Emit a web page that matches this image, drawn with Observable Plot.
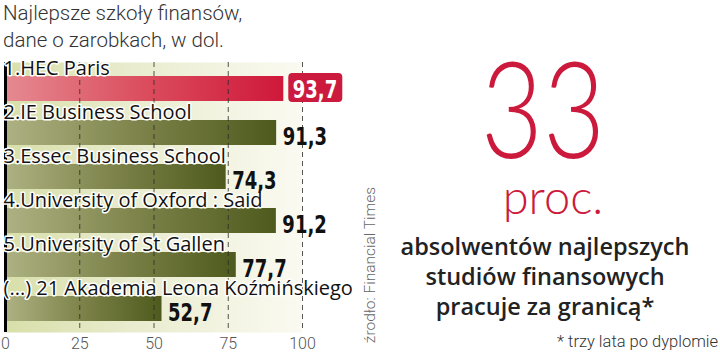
<!DOCTYPE html>
<html>
<head>
<meta charset="utf-8">
<script src="https://cdn.jsdelivr.net/npm/d3@7"></script>
<script src="https://cdn.jsdelivr.net/npm/@observablehq/plot@0.6"></script>
<style>
  html, body { margin: 0; padding: 0; background: #fff; }
  #wrap { position: relative; width: 720px; height: 355px; overflow: hidden; font-family: Roboto, "Noto Sans", sans-serif; }
  #chart { position: absolute; left: 0; top: 0; }
  .abs { position: absolute; white-space: nowrap; }
  #title { left: 3px; top: 0px; font-size: 20.5px; line-height: 27px; font-weight: 300; color: #333; }
  #big { left: 443px; width: 200px; top: 52px; text-align: center; font-family: Lato, "Open Sans", sans-serif; font-weight: 300; font-size: 134px; line-height: 110px; color: #cc1a3c; transform: scaleX(0.8); }
  #proc { left: 453px; width: 200px; top: 171px; text-align: center; font-family: Lato, "Open Sans", sans-serif; font-weight: 300; font-size: 47px; line-height: 50px; color: #cc1a3c; }
  #desc { left: 395px; width: 300px; top: 231px; text-align: center; font-family: "Open Sans", "Noto Sans", sans-serif; font-weight: 600; font-size: 23.5px; line-height: 30px; color: #222; }
  #note { right: 2px; top: 332px; font-size: 16.5px; line-height: 20px; font-weight: 300; color: #333; }
  #source { left: 280px; width: 180px; top: 256px; height: 18px; text-align: center; font-size: 15.5px; line-height: 18px; font-weight: 300; color: #666; transform: rotate(-90deg); transform-origin: 50% 50%; }
</style>
</head>
<body>
<div id="wrap">
  <div id="chart"></div>
  <div id="title" class="abs"></div>
  <div id="big" class="abs"></div>
  <div id="proc" class="abs"></div>
  <div id="desc" class="abs"></div>
  <div id="note" class="abs"></div>
  <div id="source" class="abs"></div>
</div>
<script>
// ---- data ----
const schools = [
  "1.HEC Paris",
  "2.IE Business School",
  "3.Essec Business School",
  "4.University of Oxford : Said",
  "5.University of St Gallen",
  "(...) 21 Akademia Leona Koźmińskiego"
];
const salaries = [93.7, 91.3, 74.3, 91.2, 77.7, 52.7];
const valueLabels = ["93,7", "91,3", "74,3", "91,2", "77,7", "52,7"];
const highlighted = ["1.HEC Paris"];
const xTicks = [0, 25, 50, 75, 100];
const gridTicks = [25, 50, 75, 100];

const titleLines = ["Najlepsze szkoły finansów,", "dane o zarobkach, w dol."];
const bigNumber = "33";
const bigUnit = "proc.";
const descLines = ["absolwentów najlepszych", "studiów finansowych", "pracuje za granicą*"];
const footnote = "* trzy lata po dyplomie";
const sourceText = "źrodło: Financial Times";

// ---- table ----
const rows = schools.map((s, i) => ({school: s, value: salaries[i], label: valueLabels[i], hi: highlighted.includes(s)}));
const rowsOlive = rows.filter(d => !d.hi);
const rowsRed = rows.filter(d => d.hi);

const numFont = "'DejaVu Sans', sans-serif";
const labelFont = "'Open Sans', 'Noto Sans', sans-serif";

const plot = Plot.plot({
  width: 720,
  height: 355,
  marginLeft: 5,
  marginRight: 418,
  marginTop: 62,
  marginBottom: 23,
  style: {background: "transparent", overflow: "visible", fontFamily: "Roboto, 'Noto Sans', sans-serif"},
  x: {domain: [0, 100], axis: null},
  y: {domain: schools, range: [74, 322], paddingInner: 0.44, paddingOuter: 0, axis: null},
  marks: [
    Plot.frame({fill: "url(#bgGrad)", stroke: "none"}),
    Plot.barX(rowsOlive, {x: "value", y: "school", fill: "url(#oliveGrad)"}),
    Plot.barX(rowsRed, {x: "value", y: "school", fill: "url(#redGrad)"}),
    Plot.ruleX(gridTicks, {stroke: "#2a2a2a", strokeOpacity: 0.8, strokeDasharray: "5,4", strokeWidth: 1}),
    Plot.ruleX([0], {stroke: "#000", strokeWidth: 3}),
    Plot.axisX({ticks: xTicks, tickSize: 0, tickPadding: 5, fontSize: 16, fill: "#555", label: null, tickFormat: d => String(d), anchor: "bottom", fontWeight: 300}),
    Plot.text(rows, {frameAnchor: "left", y: "school", text: "school", textAnchor: "start", lineAnchor: "bottom", dx: -2, dy: -14.5, fontSize: 20, fontFamily: labelFont, fill: "#111", stroke: "white", strokeWidth: 3, paintOrder: "stroke"}),
    Plot.text(rowsOlive, {x: "value", y: "school", text: "label", textAnchor: "start", lineAnchor: "bottom", dx: 6, dy: 11.5, fontSize: 25, fontWeight: "bold", fontFamily: numFont, fill: "#111"}),
    Plot.barX(rowsRed, {x1: "value", x2: "value", y: "school", insetLeft: 5, insetRight: -59, insetTop: -3, insetBottom: -1, rx: 4, fill: "#cb1a3d"}),
    Plot.text(rowsRed, {x: "value", y: "school", text: "label", textAnchor: "start", lineAnchor: "middle", dx: 9, dy: 1, fontSize: 25, fontWeight: "bold", fontFamily: numFont, fill: "#fff"})
  ]
});

// gradients
const svg = d3.select(plot);
const defs = svg.insert("defs", ":first-child");
function grad(id, stops) {
  const g = defs.append("linearGradient").attr("id", id).attr("x1", "0").attr("x2", "1").attr("y1", "0").attr("y2", "0");
  stops.forEach(([o, c]) => g.append("stop").attr("offset", o).attr("stop-color", c));
}
grad("bgGrad", [[0, "#d8dfa9"], [0.4, "#e8ebcc"], [1, "#fbfaf2"]]);
grad("oliveGrad", [[0, "#aeb283"], [0.5, "#7c8249"], [1, "#4e5a1d"]]);
grad("redGrad", [[0, "#e58a91"], [0.5, "#db4d5e"], [1, "#cf183a"]]);

document.getElementById("chart").appendChild(plot);

// condense the bold value labels horizontally (narrow bold look)
svg.selectAll("text").each(function() {
  if (valueLabels.includes(this.textContent)) {
    const w = this.getComputedTextLength();
    this.setAttribute("textLength", (w * 0.72).toFixed(1));
    this.setAttribute("lengthAdjust", "spacingAndGlyphs");
  }
});

document.getElementById("title").innerHTML = titleLines.join("<br>");
document.getElementById("big").textContent = bigNumber;
document.getElementById("proc").textContent = bigUnit;
document.getElementById("desc").innerHTML = descLines.join("<br>");
document.getElementById("note").textContent = footnote;
document.getElementById("source").textContent = sourceText;
</script>
</body>
</html>
